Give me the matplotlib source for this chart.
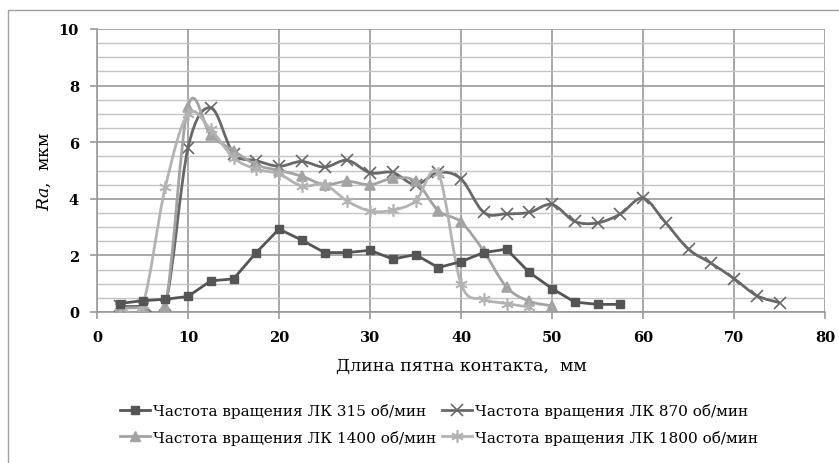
import numpy as np
import matplotlib
matplotlib.use('Agg')
from matplotlib import pyplot as plt
from matplotlib.path import Path
from matplotlib.patches import PathPatch, Rectangle
from matplotlib.lines import Line2D

# Contact spot length, mm
x_315 = [2.5, 5, 7.5, 10, 12.5, 15, 17.5, 20, 22.5, 25, 27.5, 30, 32.5, 35, 37.5, 40,
         42.5, 45, 47.5, 50, 52.5, 55, 57.5]
ra_315 = [0.3, 0.4, 0.45, 0.55, 1.1, 1.17, 2.1, 2.93, 2.54, 2.1, 2.1, 2.18, 1.87, 2.03,
          1.57, 1.78, 2.1, 2.22, 1.4, 0.83, 0.35, 0.27, 0.27]

x_870 = [2.5, 5, 7.5, 10, 12.5, 15, 17.5, 20, 22.5, 25, 27.5, 30, 32.5, 35, 37.5, 40,
         42.5, 45, 47.5, 50, 52.5, 55, 57.5, 60, 62.5, 65, 67.5, 70, 72.5, 75]
ra_870 = [0.2, 0.2, 0.25, 5.8, 7.22, 5.6, 5.35, 5.15, 5.32, 5.12, 5.36, 4.92, 4.93, 4.5,
          4.93, 4.7, 3.52, 3.47, 3.52, 3.8, 3.2, 3.15, 3.46, 4.02, 3.15, 2.22, 1.72, 1.18,
          0.58, 0.33]

x_1400 = [2.5, 5, 7.5, 10, 12.5, 15, 17.5, 20, 22.5, 25, 27.5, 30, 32.5, 35, 37.5, 40,
          42.5, 45, 47.5, 50]
ra_1400 = [0.15, 0.15, 0.2, 7.25, 6.25, 5.7, 5.2, 5.0, 4.8, 4.5, 4.62, 4.5, 4.72, 4.62,
           3.58, 3.18, 2.15, 0.88, 0.38, 0.22]

x_1800 = [2.5, 5, 7.5, 10, 12.5, 15, 17.5, 20, 22.5, 25, 27.5, 30, 32.5, 35, 37.5, 40,
          42.5, 45, 47.5]
ra_1800 = [0.2, 0.25, 4.4, 7.0, 6.45, 5.45, 5.05, 4.88, 4.45, 4.5, 3.92, 3.57, 3.6, 3.92,
           4.9, 1.0, 0.45, 0.3, 0.17]

labels = ['Частота вращения ЛК 315 об/мин', 'Частота вращения ЛК 870 об/мин',
          'Частота вращения ЛК 1400 об/мин', 'Частота вращения ЛК 1800 об/мин']

plt.rcParams['font.family'] = ['DejaVu Serif', 'DejaVu Sans']
plt.rcParams['mathtext.fontset'] = 'dejavuserif'


def smooth_path(xs, ys, t=1 / 6):
    # Excel-style smoothed line: cubic bezier through the data points
    pts = np.column_stack([xs, ys]).astype(float)
    n = len(pts)
    verts = [pts[0]]
    codes = [Path.MOVETO]
    for i in range(n - 1):
        p0 = pts[i - 1] if i > 0 else pts[i]
        p1 = pts[i]
        p2 = pts[i + 1]
        p3 = pts[i + 2] if i + 2 < n else pts[i + 1]
        c1 = p1 + (p2 - p0) * t
        c2 = p2 - (p3 - p1) * t
        verts += [c1, c2, p2]
        codes += [Path.CURVE4] * 3
    return Path(verts, codes)


fig = plt.figure(figsize=(8.39, 4.64), dpi=100)
fig.patches.append(Rectangle((8 / 839, -0.1), 1.2, 1 - 11 / 464 + 0.1,
                             transform=fig.transFigure, fill=False,
                             edgecolor='#a0a0a0', lw=1))
ax = fig.add_axes([97 / 839, 1 - 313 / 464, 728 / 839, 283 / 464])

ax.set_xlim(0, 80)
ax.set_ylim(0, 10)
ax.set_xticks(np.arange(0, 81, 10))
ax.set_yticks(np.arange(0, 11, 2))
ax.set_yticks(np.arange(0, 10.1, 0.5), minor=True)
ax.grid(True, which='major', color='#9a9a9a', lw=1.2)
ax.grid(True, which='minor', axis='y', color='#c4c4c4', lw=1)
ax.tick_params(which='minor', length=0)
ax.tick_params(which='major', direction='out', length=5, color='#9a9a9a', width=1.2,
               labelsize=10.5, pad=8)
for lab in ax.get_xticklabels() + ax.get_yticklabels():
    lab.set_fontweight('bold')
for s in ['top', 'right']:
    ax.spines[s].set_visible(False)
for s in ['left', 'bottom']:
    ax.spines[s].set_color('#9a9a9a')
    ax.spines[s].set_linewidth(1.2)
ax.set_axisbelow(True)

c315, c870, c1400, c1800 = '#555555', '#686868', '#a3a3a3', '#b3b3b3'

ax.plot(x_315, ra_315, color=c315, lw=2, marker='s', ms=5.5, zorder=5)

for xs, ys, col, mk, ms in [(x_870, ra_870, c870, 'x', 8),
                            (x_1400, ra_1400, c1400, '^', 7),
                            (x_1800, ra_1800, c1800, (6, 2, 0), 9)]:
    ax.add_patch(PathPatch(smooth_path(xs, ys), fill=False, edgecolor=col, lw=2,
                           zorder=4))
    ax.plot(xs, ys, ls='none', marker=mk, ms=ms, color=col, mec=col, mew=1.2, zorder=4)

ax.set_xlabel('Длина пятна контакта,  мм', fontsize=12.5, labelpad=9)
ax.set_ylabel('$\\mathit{Ra}$,  мкм', fontsize=12.5, labelpad=4)

handles = [
    Line2D([], [], color=c315, lw=2, marker='s', ms=5.5),
    Line2D([], [], color=c1400, lw=2, marker='^', ms=7),
    Line2D([], [], color=c870, lw=2, marker='x', ms=8, mew=1.2),
    Line2D([], [], color=c1800, lw=2, marker=(6, 2, 0), ms=9, mew=1.2),
]
fig.legend(handles, [labels[0], labels[2], labels[1], labels[3]], ncol=2,
           loc='center', bbox_to_anchor=(0.523, 1 - 425 / 464), frameon=False,
           fontsize=11, handlelength=2.0, handletextpad=0.15, columnspacing=0.4,
           labelspacing=0.75)

fig.savefig('out.png', dpi=100)
